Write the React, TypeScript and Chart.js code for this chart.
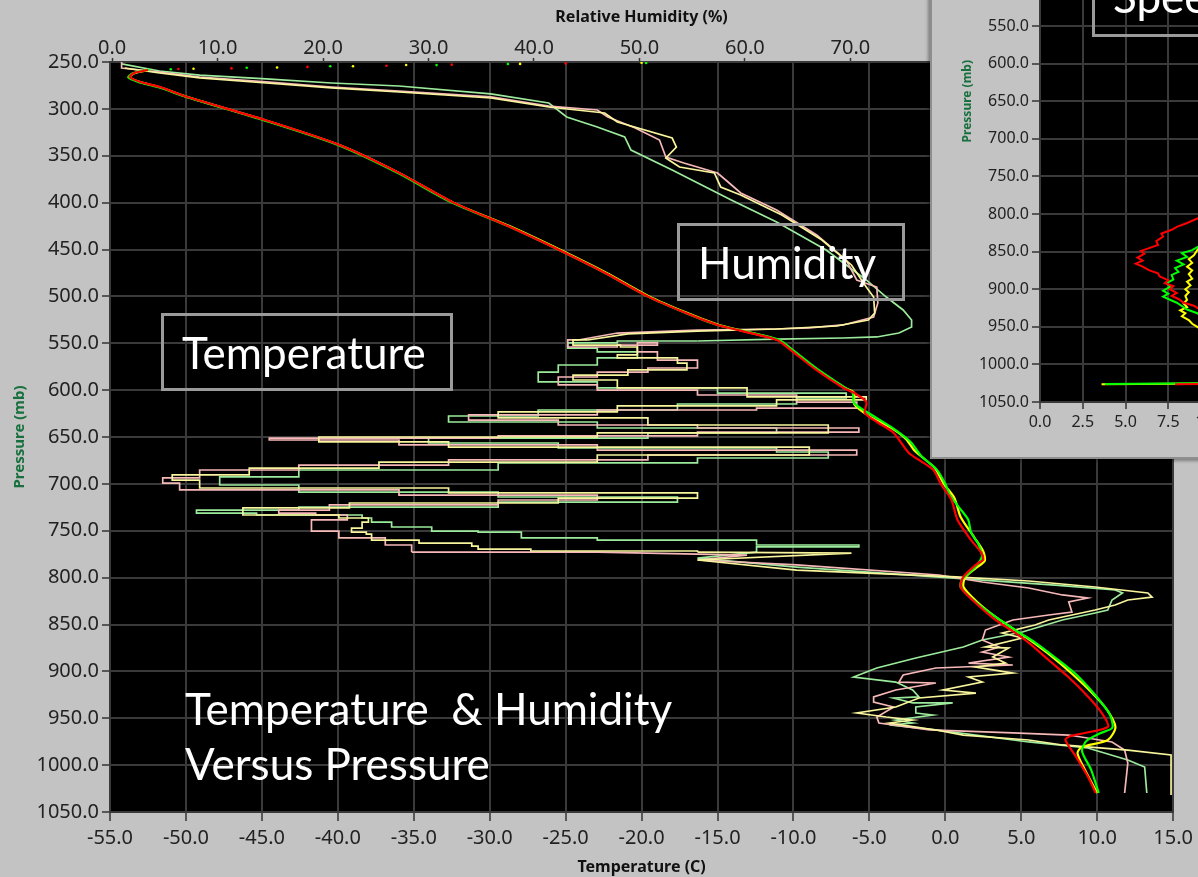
import React, { useEffect, useRef } from 'react';
import { Chart, registerables } from 'chart.js';

Chart.register(...registerables);

// ---------- axis ranges ----------
const temperatureRange = [-55, 15];
const humidityRange = [-0.2, 100.6];
const pressureRange = [250, 1050];
const speedRange = [0, 15];

// ---------- temperature traces: [temperature °C, pressure mb] ----------
const tempRed: number[][] = [
  [-52.5, 258.5], [-53.4, 261.7], [-53.7, 266], [-53.0, 271.3], [-51.7, 276.7], [-49.9, 287.3],
  [-44.8, 311.9], [-39.9, 338.5], [-36.0, 368], [-32.4, 400], [-28.8, 425], [-25.5, 450], [-22.4, 475],
  [-19.6, 500], [-17.2, 517], [-15.0, 530.5],
  [-11.1, 546.5], [-10.2, 557], [-8.5, 578.5], [-6.7, 597.7], [-6.0, 603], [-5.2, 612.7],
  [-5.3, 624.4], [-4.5, 634], [-3.4, 645.7], [-2.4, 667], [-0.8, 685], [-0.3, 700], [0.4, 717],
  [0.8, 738.5], [1.7, 760], [2.35, 773], [2.5, 781], [2.15, 784.4], [1.2, 799], [1.0, 810],
  [2.0, 827], [3.3, 845], [4.6, 859], [5.5, 869.7], [6.8, 887.9], [8.1, 906], [9.4, 927],
  [10.3, 944.4], [10.7, 959.3], [8.25, 968.9], [7.9, 973], [8.6, 991], [9.4, 1012.7], [9.9, 1029.7],
];
const tempYellow: number[][] = [
  [-52.5, 258.5], [-53.4, 262], [-53.7, 266.5], [-53.0, 271.5], [-51.7, 277], [-49.9, 287.5],
  [-44.8, 312], [-39.9, 338.5], [-36.0, 368], [-32.4, 400], [-28.7, 425], [-25.4, 450], [-22.3, 475],
  [-19.5, 500], [-17.1, 517], [-14.9, 530.5],
  [-11.0, 546.5], [-10.1, 557], [-8.4, 578.5], [-6.6, 597.7], [-6.0, 603], [-6.0, 615],
  [-5.0, 628], [-3.6, 640], [-2.6, 652], [-2.0, 665], [-0.7, 683], [-0.1, 700], [0.6, 715],
  [1.0, 735], [1.9, 757], [2.5, 772], [2.6, 782], [2.0, 790], [1.3, 800], [1.2, 810], [2.1, 826],
  [3.4, 843], [4.7, 857], [5.6, 867], [7.0, 884], [8.3, 902], [9.6, 922], [10.6, 940],
  [11.2, 959.3], [10.7, 973.2], [9.0, 980.7], [8.7, 987.1], [9.2, 1005.2], [10.0, 1029.7],
];
const tempGreen: number[][] = [
  [-52.4, 258], [-53.5, 262], [-53.8, 266.5], [-53.1, 271.5], [-51.8, 277], [-49.9, 287.5],
  [-44.9, 312], [-40.0, 338.5], [-36.1, 368], [-32.5, 400], [-28.8, 425], [-25.5, 450], [-22.4, 475],
  [-19.6, 500], [-17.2, 517], [-15.0, 530.5],
  [-11.0, 546], [-10.1, 556.5], [-8.4, 578], [-6.6, 597.5], [-6.1, 603], [-6.0, 614],
  [-4.9, 626], [-3.6, 639], [-2.3, 655], [-1.6, 670], [-0.6, 684], [0.0, 700], [0.3, 712],
  [0.9, 725], [1.5, 738], [1.7, 752], [2.2, 765], [2.4, 778], [1.9, 790], [1.1, 802], [1.0, 810],
  [2.0, 826], [3.4, 843], [4.8, 858], [5.9, 869], [7.3, 886], [8.6, 903], [9.7, 922], [10.8, 945],
  [11.0, 960], [10.2, 966], [9.3, 974], [9.0, 985], [9.6, 1005], [10.1, 1029.7],
];
const dotsRed: number[][] = [[-50.5, 257.5], [-47.0, 256.8], [-42.0, 255.2], [-36.8, 254], [-32.5, 252.8], [-25.0, 251.5]];
const dotsYellow: number[][] = [[-49.5, 257.2], [-44.0, 255.8], [-39.0, 254.5], [-35.5, 253.2], [-28.0, 252], [-20.0, 250.8]];
const dotsGreen: number[][] = [[-51.0, 257.8], [-46.0, 256.2], [-40.5, 254.6], [-33.5, 253.3], [-28.8, 252.2], [-19.7, 251]];

// ---------- humidity traces: [relative humidity %, pressure mb] ----------
const rhPink: number[][] = [
  [0.9, 250], [0.9, 256.4], [4.5, 260.7], [8.3, 266], [14.6, 271.3], [20.8, 276.7], [27.2, 281],
  [35.9, 287.3], [41.4, 297], [46.0, 301.2], [47.0, 308.7], [49.6, 320.4], [51.9, 333.2],
  [52.5, 351.3], [54.2, 357.7], [57.4, 368.4], [58.4, 378], [59.6, 389.7], [63.0, 407.9],
  [66.8, 434.5], [69.6, 461.2], [70.6, 482.5], [72.5, 490], [72.6, 507], [72.2, 522], [69.3, 530.5],
  [66.1, 533.7], [63.0, 534.8], [55.5, 535.9], [47.9, 539.1], [44.2, 546.5], [43.2, 554],
  [47.9, 551.9], [51.7, 549.7], [49.8, 559.3], [51.7, 567.9], [55.5, 576.4], [50.8, 580.7],
  [46.0, 586], [42.3, 594.5], [46.0, 599.9], [55.5, 605.2], [64.9, 612.7], [70.6, 619.1],
  [61.1, 621.2], [46.0, 626.5], [33.8, 631.9], [42.3, 637.2], [55.5, 640.4], [70.8, 644.7],
  [55.5, 648.9], [36.6, 651.1], [14.9, 653.2], [27.2, 658.5], [46.0, 663.9], [70.6, 669.2],
  [50.8, 674.5], [31.9, 679.9], [17.7, 685.2], [8.3, 693.7], [4.8, 699.1], [6.4, 706.5],
  [27.2, 711.9], [46.0, 717.2], [36.6, 722.5], [20.6, 727.9], [15.8, 731.1], [19.3, 733.2],
  [22.3, 738.5], [18.9, 750.3], [21.5, 757.7], [25.9, 765.2], [28.4, 772.7], [46.0, 772.7],
  [60.2, 775.9], [55.5, 781.2], [64.9, 786.5], [78.4, 797.2], [82.5, 804.7], [86.9, 811.1],
  [90.1, 818.5], [92.5, 821.7], [90.7, 826], [91.0, 836.7], [88.8, 839.9], [85.4, 845.2],
  [82.8, 855.9], [82.5, 866.5], [84.1, 874], [82.5, 879.3], [85.0, 884.7], [81.2, 891.1],
  [85.4, 893.2], [78.1, 896.4], [75.0, 903.9], [74.6, 911.4], [78.1, 912.4], [74.3, 919.9],
  [72.2, 927.3], [72.2, 932.7], [74.1, 938], [72.5, 948.7], [72.7, 955.1], [77.5, 962.5],
  [85.4, 965.7], [90.7, 967.9], [94.8, 975.3], [96.0, 983.9], [96.3, 997.7], [96.0, 1029.7],
];
const rhYellow: number[][] = [
  [1.2, 256.4], [4.5, 261.7], [8.3, 267], [14.6, 272.4], [20.8, 277.7], [27.2, 282], [35.9, 288.4],
  [41.4, 298], [46.7, 304.4], [47.9, 314], [53.1, 331.1], [53.5, 340.7], [52.5, 352.4], [53.8, 362],
  [57.1, 368.4], [57.7, 383.3], [59.6, 391.9], [63.5, 413.2], [67.3, 439.9], [70.1, 466.5],
  [71.5, 490], [72.2, 500.7], [72.3, 517.7], [71.7, 525.2], [68.7, 531.6], [63.0, 534.8],
  [55.5, 537], [48.9, 540.1], [45.1, 546.5], [43.7, 551.9], [48.2, 554], [49.8, 562.5],
  [47.9, 565.7], [53.6, 571.1], [54.5, 578.5], [48.9, 583.9], [43.7, 589.2], [47.9, 597.7],
  [60.2, 607.3], [71.5, 610.5], [63.0, 616.9], [47.9, 623.3], [36.6, 629.7], [50.8, 637.2],
  [67.9, 645.7], [46.0, 650], [19.6, 655.3], [31.9, 660.7], [66.1, 669.2], [46.0, 676.7],
  [25.3, 683.1], [13.0, 690.5], [5.7, 695.9], [8.3, 704.4], [31.9, 709.7], [55.5, 715.1],
  [42.3, 720.4], [22.5, 725.7], [12.4, 733.2], [21.5, 736.4], [24.3, 740.7], [23.7, 747.1],
  [22.7, 751.4], [24.1, 753.5], [24.6, 759.9], [29.1, 763.1], [34.1, 766.3], [34.7, 769.5],
  [39.7, 771.6], [55.5, 772.7], [70.1, 773.8], [55.5, 781.2], [64.9, 791.9], [80.0, 799.3],
  [86.9, 803.6], [93.2, 810], [98.2, 816.4], [98.6, 820.7], [96.3, 823.9], [95.1, 829.2],
  [93.2, 834.5], [88.8, 845.2], [87.5, 850.5], [84.4, 859.1], [86.3, 864.4], [82.8, 874],
  [85.0, 875.1], [83.5, 884.7], [84.7, 891.1], [81.9, 895.3], [85.4, 901.8], [81.2, 906],
  [82.5, 911.4], [78.8, 919.9], [81.9, 923.1], [76.5, 928.4], [74.3, 938], [70.6, 944.4],
  [73.4, 948.7], [75.9, 951.9], [73.7, 955.1], [78.1, 962.5], [80.7, 967.9], [86.9, 973.2],
  [90.1, 978.5], [96.3, 983.9], [100.4, 989.2], [100.4, 991.3], [100.4, 1031.9],
];
const rhGreen: number[][] = [
  [0.9, 252], [4.5, 259.6], [8.3, 263.9], [14.6, 268.1], [20.8, 272.4], [27.2, 275.6], [35.9, 284.1],
  [41.4, 293.7], [43.1, 308.7], [46.0, 319.3], [48.6, 330], [49.2, 343.9], [53.1, 365.2],
  [58.7, 397.2], [63.0, 420.7], [67.7, 450.5], [71.5, 482.5], [73.4, 500.7], [75.0, 514.5],
  [75.8, 525.2], [75.8, 532.7], [74.6, 539.1], [72.5, 543.3], [69.3, 544.4], [63.0, 545.5],
  [55.5, 547.6], [47.9, 549.7], [43.2, 555.1], [46.0, 559.3], [49.8, 565.7], [46.0, 573.2],
  [42.3, 580.7], [40.4, 591.3], [46.0, 597.7], [57.4, 603.1], [69.6, 608.4], [64.9, 614.8],
  [53.6, 621.2], [40.4, 627.6], [31.9, 634], [46.0, 640.4], [63.0, 645.7], [50.8, 651.1],
  [30.0, 656.4], [42.3, 661.7], [63.0, 666], [67.9, 672.4], [55.5, 677.7], [36.6, 685.2],
  [17.7, 692.6], [10.2, 701.2], [17.7, 708.7], [36.6, 714], [53.6, 719.4], [36.6, 724.7],
  [17.7, 727.9], [8.0, 731.1], [13.7, 733.2], [16.8, 733.2], [23.7, 736.4], [24.6, 740.7],
  [26.5, 746], [30.3, 750.3], [34.7, 751.4], [38.8, 757.7], [46.0, 759.9], [61.1, 765.2],
  [70.8, 767.3], [61.1, 772.7], [55.5, 779.1], [64.9, 788.7], [82.2, 802.5], [89.4, 807.9],
  [95.1, 813.2], [95.8, 816.4], [94.8, 823.9], [94.4, 834.5], [93.2, 837.7], [90.1, 845.2],
  [86.3, 858], [82.5, 866.5], [80.7, 874], [76.2, 885.7], [72.5, 896.4], [70.3, 906],
  [74.3, 911.4], [75.9, 919.9], [76.5, 927.3], [74.1, 928.4], [75.9, 933.7], [79.7, 933.7],
  [76.2, 938], [76.2, 944.4], [77.8, 946.5], [74.3, 951.9], [75.9, 955.1], [73.7, 957.2],
  [78.1, 962.5], [86.9, 975.3], [92.5, 981.7], [96.3, 994.5], [97.9, 1002], [98.1, 1029.7],
];
// between these pressures the humidity traces are drawn as stepped (sample-and-hold) lines
const steppedPressureBand = [546, 772];

// ---------- inset wind speed traces: [speed, pressure mb] ----------
const speedRed: number[][] = [
  [7.9, 1026.5], [13.5, 1025.5], [13.2, 1010], [12.4, 990], [11.2, 965], [10.1, 940], [9.4, 928],
  [9.0, 922], [8.4, 918], [8.1, 913], [7.7, 909], [8.0, 905], [7.6, 900], [7.8, 896], [7.3, 892],
  [7.5, 888], [7.0, 883], [6.9, 879], [6.4, 875], [6.0, 870], [5.6, 866], [6.0, 862], [5.7, 858],
  [6.1, 853], [5.9, 849], [6.3, 846], [6.9, 841], [6.8, 836], [7.2, 830], [7.1, 826], [7.7, 821],
  [8.0, 817], [8.6, 812], [9.2, 806], [9.8, 803], [10.8, 798], [12.0, 790],
];
const speedGreen: number[][] = [
  [3.8, 1026], [12.8, 1024.5], [12.5, 1005], [11.5, 985], [10.6, 960], [9.8, 940], [9.2, 932],
  [8.6, 927], [8.4, 924], [8.0, 918], [7.6, 914], [7.2, 910], [7.5, 906], [7.2, 902], [7.6, 897],
  [7.4, 892], [7.8, 887], [7.7, 881], [8.1, 877], [7.9, 872], [8.4, 867], [8.0, 862], [8.6, 857],
  [8.3, 852], [8.9, 848], [9.2, 844], [9.8, 838], [10.5, 830], [11.5, 820],
];
const speedYellow: number[][] = [
  [3.6, 1026.5], [12.2, 1025.2], [12.0, 1008], [11.0, 985], [10.0, 962], [9.2, 950], [8.9, 946],
  [8.7, 941], [8.3, 936], [8.5, 932], [8.2, 928], [8.6, 924], [8.4, 919], [8.6, 914], [8.5, 909],
  [8.7, 904], [8.5, 900], [8.8, 895], [8.6, 890], [8.9, 886], [8.7, 880], [8.9, 875], [8.6, 870],
  [8.9, 865], [8.7, 860], [9.0, 855], [9.2, 848], [9.5, 840], [10.2, 832], [11.0, 825],
];

const TICK_FONT = '"Noto Sans", "DejaVu Sans", sans-serif';
const LABEL_FONT = 'Lato, "Noto Sans", sans-serif';
const GRID = '#3a3a3a';
const PANEL = '#c3c3c3';

const toXY = (arr: number[][]) => arr.map(([x, y]) => ({ x, y }));

function splitBand(arr: number[][], lo: number, hi: number): number[][][] {
  const i = arr.findIndex((q) => q[1] >= lo);
  const j = arr.findIndex((q) => q[1] >= hi);
  return [arr.slice(0, i + 1), arr.slice(i, j + 1), arr.slice(j)];
}

function lineSet(data: number[][], color: string, axis: string, width: number, extra: any = {}) {
  return {
    data: toXY(data),
    xAxisID: axis,
    yAxisID: 'y',
    showLine: true,
    borderColor: color,
    backgroundColor: color,
    borderWidth: width,
    pointRadius: 0,
    pointHoverRadius: 0,
    tension: 0,
    fill: false,
    ...extra,
  };
}
function dotSet(data: number[][], color: string) {
  return {
    data: toXY(data),
    xAxisID: 'xT',
    yAxisID: 'y',
    showLine: false,
    borderColor: color,
    backgroundColor: color,
    pointRadius: 1.3,
    pointBorderWidth: 0,
  };
}
function humiditySets(data: number[][], color: string) {
  const [upper, middle, lower] = splitBand(data, steppedPressureBand[0], steppedPressureBand[1]);
  return [
    lineSet(upper, color, 'xRH', 1.7),
    lineSet(middle, color, 'xRH', 1.7, { stepped: 'before' }),
    lineSet(lower, color, 'xRH', 1.7),
  ];
}

const bgPlugin = {
  id: 'panelBg',
  beforeDraw(chart: any) {
    const { ctx, chartArea: a, width, height } = chart;
    ctx.save();
    ctx.fillStyle = PANEL;
    ctx.fillRect(0, 0, width, height);
    ctx.fillStyle = '#000';
    ctx.fillRect(a.left, a.top, a.right - a.left, a.bottom - a.top);
    ctx.restore();
  },
};

const fmt1 = (v: any) => Number(v).toFixed(1);

export default function App() {
  const mainRef = useRef<HTMLCanvasElement>(null);
  const insetRef = useRef<HTMLCanvasElement>(null);

  useEffect(() => {
    const tickFont = { family: TICK_FONT, size: 20, lineHeight: 1.2 };
    const titleFont = { family: TICK_FONT, size: 16, weight: 'bold', lineHeight: 1.2 };
    const smooth = { tension: 0.25 };
    const main = new Chart(mainRef.current as HTMLCanvasElement, {
      type: 'scatter',
      data: {
        datasets: [
          lineSet(tempRed, '#ff0000', 'xT', 2.2, smooth),
          lineSet(tempGreen, '#00ff00', 'xT', 2.2, smooth),
          lineSet(tempYellow, '#ffff00', 'xT', 2.2, smooth),
          dotSet(dotsRed, '#ff0000'),
          dotSet(dotsYellow, '#ffff00'),
          dotSet(dotsGreen, '#00ff00'),
          ...humiditySets(rhYellow, '#f8f59c'),
          ...humiditySets(rhPink, '#f7b8b8'),
          ...humiditySets(rhGreen, '#9ceb9c'),
        ] as any,
      },
      options: {
        responsive: false,
        animation: false,
        events: [],
        layout: { padding: { left: 0, right: 20, top: 0, bottom: 0 } },
        plugins: { legend: { display: false }, tooltip: { enabled: false } },
        scales: {
          xT: {
            type: 'linear',
            position: 'bottom',
            min: temperatureRange[0],
            max: temperatureRange[1],
            afterFit: (s: any) => { s.height = 65; },
            ticks: { stepSize: 5, autoSkip: false, maxRotation: 0, color: '#222', font: tickFont, padding: 5, callback: fmt1 },
            grid: { color: GRID, lineWidth: 2, tickColor: '#333', tickLength: 9, tickWidth: 1.5 },
            border: { display: true, color: GRID, width: 2 },
            title: { display: true, text: 'Temperature (C)', color: '#111', font: titleFont, padding: { top: 0, bottom: 0 } },
          },
          xRH: {
            type: 'linear',
            position: 'top',
            min: humidityRange[0],
            max: humidityRange[1],
            afterFit: (s: any) => { s.height = 62; },
            ticks: { stepSize: 10, includeBounds: false, autoSkip: false, maxRotation: 0, color: '#222', font: tickFont, padding: -2, callback: fmt1 },
            grid: { drawOnChartArea: false, tickColor: '#333', tickLength: 4, tickWidth: 1.5 },
            border: { display: false },
            title: { display: true, text: 'Relative Humidity (%)', color: '#111', font: titleFont, padding: { top: 8, bottom: 0 } },
          },
          y: {
            type: 'linear',
            position: 'left',
            reverse: true,
            min: pressureRange[0],
            max: pressureRange[1],
            afterFit: (s: any) => { s.width = 110; },
            ticks: { stepSize: 50, autoSkip: false, color: '#222', font: tickFont, padding: 3, callback: fmt1 },
            grid: { color: GRID, lineWidth: 2, tickColor: '#333', tickLength: 8, tickWidth: 1.5 },
            border: { display: true, color: GRID, width: 2 },
            title: { display: true, text: 'Pressure (mb)', color: '#17703d', font: { family: TICK_FONT, size: 15, weight: 'bold', lineHeight: 1.2 }, padding: { top: 11, bottom: 0 } },
          },
        } as any,
      },
      plugins: [bgPlugin],
    });

    const insetTick = { family: TICK_FONT, size: 16, lineHeight: 1.2 };
    const inset = new Chart(insetRef.current as HTMLCanvasElement, {
      type: 'scatter',
      data: {
        datasets: [
          lineSet(speedRed, '#ff0000', 'x', 2),
          lineSet(speedGreen, '#00ff00', 'x', 2),
          lineSet(speedYellow, '#ffff00', 'x', 2),
        ] as any,
      },
      options: {
        responsive: false,
        animation: false,
        events: [],
        layout: { padding: { left: 0, right: 65.5, top: 15.4, bottom: 0 } },
        plugins: { legend: { display: false }, tooltip: { enabled: false } },
        scales: {
          x: {
            type: 'linear',
            position: 'bottom',
            min: speedRange[0],
            max: speedRange[1],
            afterFit: (s: any) => { s.height = 55; },
            ticks: { stepSize: 2.5, autoSkip: false, maxRotation: 0, color: '#222', font: insetTick, padding: 4, callback: fmt1 },
            grid: { color: GRID, lineWidth: 2, tickColor: '#333', tickLength: 7, tickWidth: 1.5 },
            border: { display: true, color: GRID, width: 2 },
          },
          y: {
            type: 'linear',
            position: 'left',
            reverse: true,
            min: pressureRange[0],
            max: pressureRange[1],
            afterFit: (s: any) => { s.width = 108; },
            ticks: { stepSize: 50, autoSkip: false, color: '#222', font: insetTick, padding: 3, callback: fmt1 },
            grid: { color: GRID, lineWidth: 2, tickColor: '#333', tickLength: 8, tickWidth: 1.5 },
            border: { display: true, color: GRID, width: 2 },
            title: { display: true, text: 'Pressure (mb)', color: '#17703d', font: { family: TICK_FONT, size: 12, weight: 'bold', lineHeight: 1.2 }, padding: { top: 28, bottom: 0 } },
          },
        } as any,
      },
      plugins: [bgPlugin],
    });

    return () => {
      main.destroy();
      inset.destroy();
    };
  }, []);

  const boxStyle = (left: number, top: number, width: number, height: number): React.CSSProperties => ({
    position: 'absolute',
    left,
    top,
    width,
    height,
    boxSizing: 'border-box',
    border: '3px solid #9a9a9a',
    display: 'flex',
    alignItems: 'center',
    paddingLeft: 18,
    color: '#ffffff',
    fontFamily: LABEL_FONT,
    fontSize: 44,
    lineHeight: 1.2,
    whiteSpace: 'nowrap',
  });

  return (
    <div style={{ position: 'absolute', left: 0, top: 0, width: 1198, height: 877, overflow: 'hidden', background: PANEL }}>
      <canvas ref={mainRef} width={1198} height={877} style={{ position: 'absolute', left: 0, top: 0, width: 1198, height: 877 }} />

      <div style={boxStyle(161, 313, 292, 78)}>Temperature</div>
      <div style={boxStyle(677, 223, 228, 78)}>Humidity</div>
      <div
        style={{
          position: 'absolute',
          left: 185,
          top: 681,
          color: '#ffffff',
          fontFamily: LABEL_FONT,
          fontSize: 44,
          lineHeight: '55px',
          whiteSpace: 'pre',
        }}
      >
        {'Temperature  & Humidity\nVersus Pressure'}
      </div>

      <div
        style={{
          position: 'absolute',
          left: 930,
          top: -215,
          width: 430,
          height: 672,
          borderLeft: '2px solid #8e8e8e',
          borderBottom: '2px solid #8e8e8e',
          boxShadow: '-2px 2px 3px rgba(0,0,0,0.35)',
          background: PANEL,
        }}
      >
        <canvas ref={insetRef} width={430} height={672} style={{ position: 'absolute', left: 0, top: 0, width: 430, height: 672 }} />
      </div>
      <div
        style={{
          position: 'absolute',
          left: 1092,
          top: -50,
          width: 200,
          height: 87,
          boxSizing: 'border-box',
          border: '3px solid #9a9a9a',
          color: '#ffffff',
          fontFamily: LABEL_FONT,
          fontSize: 44,
          lineHeight: 1.2,
          whiteSpace: 'nowrap',
        }}
      >
        <span style={{ position: 'absolute', left: 18, top: 17 }}>Speed</span>
      </div>
    </div>
  );
}
